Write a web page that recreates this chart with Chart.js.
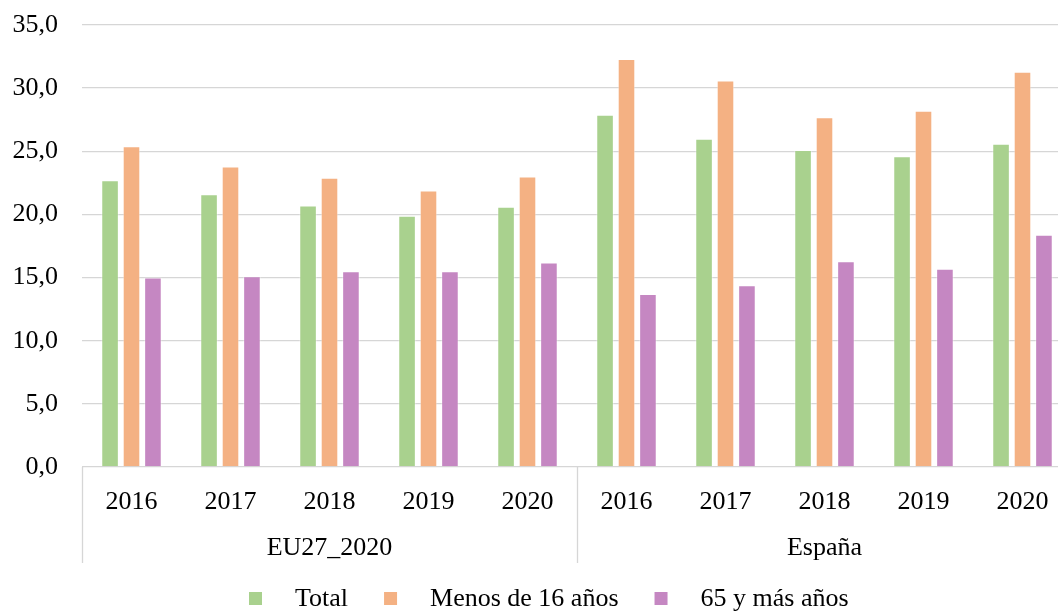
<!DOCTYPE html>
<html lang="es">
<head>
<meta charset="utf-8">
<title>Tasa de riesgo de pobreza</title>
<script src="https://cdn.jsdelivr.net/npm/chart.js@4/dist/chart.umd.min.js"></script>
<style>
    body { margin: 0; background: #fff; overflow: hidden; }
    #contenedor { width: 1072px; height: 611px; position: relative; }
</style>
</head>
<body>
<div id="contenedor"><canvas id="grafico"></canvas></div>
<script>
// Datos
const grupos = ['EU27_2020', 'España'];
const anios = ['2016', '2017', '2018', '2019', '2020'];
const etiquetas = [...anios, ...anios];

const total = [22.7, 21.6, 20.7, 19.9, 20.6, 27.9, 26.0, 25.1, 24.6, 25.6];
const menos16 = [25.4, 23.8, 22.9, 21.9, 23.0, 32.3, 30.6, 27.7, 28.2, 31.3];
const mayores65 = [15.0, 15.1, 15.5, 15.5, 16.2, 13.7, 14.4, 16.3, 15.7, 18.4];

const series = ['Total', 'Menos de 16 años', '65 y más años'];
const colores = ['#A9D18E', '#F4B183', '#C587C2'];

const fuente = '"Liberation Serif", "Times New Roman", serif';
const gris = '#d6d6d6';

// Separadores, etiquetas de grupo y leyenda
const extras = {
    id: 'extras',
    afterDraw(chart) {
        const ctx = chart.ctx;
        const x = chart.scales.x;
        const base = chart.chartArea.bottom;
        const porGrupo = anios.length;
        const ancho = (x.right - x.left) / etiquetas.length;

        ctx.save();
        ctx.strokeStyle = gris;
        ctx.lineWidth = 1.3;
        for (let g = 0; g <= grupos.length; g++) {
            const px = Math.round(x.left + g * porGrupo * ancho) + 0.5;
            ctx.beginPath();
            ctx.moveTo(px, base);
            ctx.lineTo(px, base + 96);
            ctx.stroke();
        }

        ctx.font = '26px ' + fuente;
        ctx.fillStyle = '#000';
        ctx.textAlign = 'center';
        ctx.textBaseline = 'alphabetic';
        grupos.forEach((nombre, g) => {
            const centro = x.left + (g + 0.5) * porGrupo * ancho;
            ctx.fillText(nombre, centro, 555);
        });

        // Leyenda
        ctx.textAlign = 'left';
        let lx = 249;
        chart.data.datasets.forEach(ds => {
            ctx.fillStyle = ds.backgroundColor;
            ctx.fillRect(lx, 592, 13, 13);
            lx += 13 + 33;
            ctx.fillStyle = '#000';
            ctx.fillText(ds.label, lx, 606);
            lx += ctx.measureText(ds.label).width + 36;
        });
        ctx.restore();
    }
};

const ctx = document.getElementById('grafico').getContext('2d');
const grafico = new Chart(ctx, {
    type: 'bar',
    data: {
        labels: etiquetas,
        datasets: [total, menos16, mayores65].map((valores, i) => ({
            label: series[i],
            data: valores,
            backgroundColor: colores[i],
            borderColor: 'rgba(255,255,255,0.4)',
            borderWidth: 1,
            barPercentage: 0.82,
            categoryPercentage: 0.65
        }))
    },
    options: {
        responsive: true,
        maintainAspectRatio: false,
        animation: false,
        layout: { padding: 0 },
        plugins: {
            legend: { display: false },
            tooltip: { enabled: false }
        },
        scales: {
            x: {
                grid: { display: false },
                border: { display: false },
                ticks: {
                    color: '#000',
                    font: { family: fuente, size: 26 },
                    padding: 12,
                    maxRotation: 0,
                    autoSkip: false
                },
                afterFit: function(scale) { scale.height = 144; }
            },
            y: {
                min: 0,
                max: 35,
                grid: { color: gris, lineWidth: 1.3, drawTicks: false },
                border: { display: false },
                ticks: {
                    stepSize: 5,
                    color: '#000',
                    padding: 24,
                    font: { family: fuente, size: 26 },
                    callback: v => v.toFixed(1).replace('.', ',')
                },
                afterFit: function(scale) {
                    scale.width = 82;
                    scale.paddingTop = 25;
                    scale.paddingBottom = 0;
                }
            }
        }
    },
    plugins: [extras]
});
</script>
</body>
</html>
